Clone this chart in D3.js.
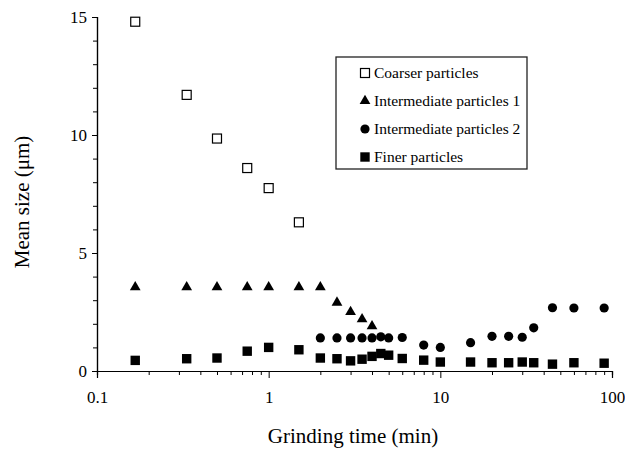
<!DOCTYPE html>
<html><head><meta charset="utf-8">
<script src="https://cdn.jsdelivr.net/npm/d3@7/dist/d3.min.js"></script>
<style>body{margin:0;background:#fff}svg{display:block}svg text{font-family:'Liberation Serif','Times New Roman',Times,serif;fill:#000}</style>
</head><body><svg id="c" width="625" height="456"></svg>
<script>
const coarserT = [0.167,0.333,0.5,0.75,1,1.5];
const coarserV = [14.8,11.7,9.85,8.6,7.75,6.3];
const inter1T = [0.167,0.333,0.5,0.75,1,1.5,2,2.5,3,3.5,4];
const inter1V = [3.55,3.55,3.55,3.55,3.55,3.55,3.55,2.9,2.5,2.2,1.9];
const inter2T = [2,2.5,3,3.5,4,4.5,5,6,8,10,15,20,25,30,35,45,60,90];
const inter2V = [1.4,1.4,1.4,1.4,1.4,1.45,1.4,1.42,1.1,1.0,1.2,1.47,1.47,1.43,1.83,2.68,2.67,2.67];
const finerT = [0.167,0.333,0.5,0.75,1,1.5,2,2.5,3,3.5,4,4.5,5,6,8,10,15,20,25,30,35,45,60,90];
const finerV = [0.45,0.52,0.55,0.84,1.0,0.9,0.55,0.52,0.43,0.5,0.62,0.74,0.67,0.53,0.46,0.38,0.38,0.35,0.35,0.38,0.35,0.29,0.35,0.33];
const xTicks = [0.1,1,10,100];
const xTickLabels = ["0.1","1","10","100"];
const yTicks = [0,5,10,15];
const seriesNames = ["Coarser particles","Intermediate particles 1","Intermediate particles 2","Finer particles"];

const FONT = "'Liberation Serif','Times New Roman',Times,serif";
const svg = d3.select("#c");
const x = d3.scaleLog().domain([0.1,100]).range([97,612]);
const y = d3.scaleLinear().domain([0,15]).range([371,17]);

const minorX = [];
for (let d=0.1; d<100; d*=10) for (let k=2;k<10;k++) minorX.push(+(d*k).toPrecision(3));
const xAxisMinor = d3.axisBottom(x).tickValues(minorX).tickSize(4).tickFormat("");
const xAxisMajor = d3.axisBottom(x).tickValues(xTicks).tickSize(7).tickFormat((d,i)=>xTickLabels[i]).tickPadding(13);
const gx1 = svg.append("g").attr("transform",`translate(0,${y(0)})`).call(xAxisMinor);
const gx2 = svg.append("g").attr("transform",`translate(0,${y(0)})`).call(xAxisMajor);
[gx1,gx2].forEach(g=>{g.attr("font-family",FONT);g.select(".domain").attr("stroke","#000").attr("stroke-width",1.2);g.selectAll(".tick line").attr("stroke","#000");});
gx2.selectAll("text").attr("font-size",17).style("font-family",FONT);

const minorY = d3.range(0,16);
const yAxisMinor = d3.axisLeft(y).tickValues(minorY).tickSize(4).tickFormat("");
const yAxisMajor = d3.axisLeft(y).tickValues(yTicks).tickSize(5).tickPadding(5);
const gy1 = svg.append("g").attr("transform",`translate(${x(0.1)},0)`).call(yAxisMinor);
const gy2 = svg.append("g").attr("transform",`translate(${x(0.1)},0)`).call(yAxisMajor);
[gy1,gy2].forEach(g=>{g.attr("font-family",FONT);g.select(".domain").attr("stroke","#000").attr("stroke-width",1.2);g.selectAll(".tick line").attr("stroke","#000");});
gy2.selectAll("text").attr("font-size",17).style("font-family",FONT);

svg.append("text").attr("x",353).attr("y",443).attr("text-anchor","middle").attr("font-size",21).style("font-family",FONT).text("Grinding time (min)");
svg.append("text").attr("transform","translate(29,202) rotate(-90)").attr("text-anchor","middle").attr("font-size",21).style("font-family",FONT).text("Mean size (\u03bcm)");

const tri = d3.symbol().type(d3.symbolTriangle).size(50);
function drawMarker(g, type, cx, cy){
  if (type===0) g.append("rect").attr("x",cx-4.5).attr("y",cy-4.5).attr("width",9).attr("height",9).attr("fill","#fff").attr("stroke","#000").attr("stroke-width",1.2);
  else if (type===1) g.append("path").attr("d",tri()).attr("transform",`translate(${cx},${cy})`).attr("fill","#000");
  else if (type===2) g.append("circle").attr("cx",cx).attr("cy",cy).attr("r",4.6).attr("fill","#000");
  else g.append("rect").attr("x",cx-4.7).attr("y",cy-4.7).attr("width",9.4).attr("height",9.4).attr("fill","#000");
}
const series = [[coarserT,coarserV],[inter1T,inter1V],[inter2T,inter2V],[finerT,finerV]];
const gp = svg.append("g");
series.forEach(([t,v],si)=>{ t.forEach((tt,i)=>drawMarker(gp,si,x(tt),y(v[i]))); });

const lg = svg.append("g");
lg.append("rect").attr("x",336).attr("y",57).attr("width",191).attr("height",112).attr("fill","#fff").attr("stroke","#222").attr("stroke-width",1.3);
const legY = [73,101,129,157];
seriesNames.forEach((n,i)=>{
  drawMarker(lg,i,365,legY[i]);
  lg.append("text").attr("x",374).attr("y",legY[i]).attr("dy","0.35em").attr("font-size",15.5).style("font-family",FONT).text(n);
});
</script></body></html>
